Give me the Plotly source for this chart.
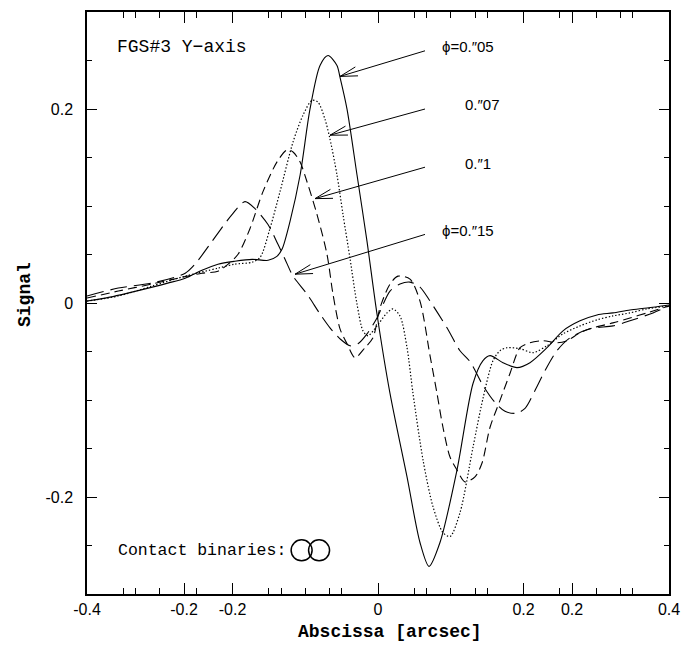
import plotly.graph_objects as go
import math

# ---------------- data ----------------
x_p05 = [-0.400, -0.375, -0.334, -0.289, -0.265, -0.242, -0.220, -0.197, -0.173, -0.151, -0.139, -0.132,
         -0.121, -0.107, -0.0935, -0.0797, -0.0687, -0.0564, -0.0522, -0.0426, -0.0289, -0.0151, -0.0014,
         0.0165, 0.0399, 0.0577, 0.0701, 0.0852, 0.1086, 0.1306, 0.1443, 0.154, 0.1718, 0.1911, 0.2089,
         0.2323, 0.2543, 0.2777, 0.301, 0.323, 0.3464, 0.3698, 0.400]
y_p05 = [0.002, 0.005, 0.012, 0.0205, 0.0256, 0.0338, 0.040, 0.043, 0.045, 0.044, 0.048, 0.0553,
         0.084, 0.1322, 0.1998, 0.2449, 0.2551, 0.2449, 0.2326, 0.1998, 0.1322, 0.0635, -0.0113,
         -0.0932, -0.1793, -0.2469, -0.2715, -0.2469, -0.1721, -0.083, -0.0594, -0.0543, -0.0615, -0.0666, -0.0615,
         -0.0461, -0.0287, -0.0184, -0.0123, -0.0102, -0.0072, -0.0051, -0.002]

x_p07 = [-0.400, -0.357, -0.311, -0.265, -0.220, -0.197, -0.173, -0.162, -0.1485, -0.1347, -0.1168, -0.1031,
         -0.0907, -0.0825, -0.0729, -0.066, -0.0564, -0.0481, -0.0385, -0.0289, -0.0206, -0.0137, -0.0014,
         0.0124, 0.0206, 0.0302, 0.0399, 0.0481, 0.0619, 0.0756, 0.0893, 0.099, 0.1127, 0.1306, 0.1443,
         0.1581, 0.1677, 0.1773, 0.1952, 0.2131, 0.2323, 0.2543, 0.2777, 0.301, 0.323, 0.3464, 0.3698, 0.400]
y_p07 = [0.002, 0.0072, 0.0174, 0.0277, 0.0359, 0.040, 0.042, 0.0471, 0.0768, 0.1148, 0.166, 0.1936,
         0.209, 0.207, 0.1895, 0.169, 0.1322, 0.0912, 0.0461, -0.001, -0.0287, -0.0338, -0.0236,
         -0.0102, -0.0061, -0.0133, -0.0461, -0.0932, -0.1619, -0.210, -0.2367, -0.2408, -0.2162, -0.1486, -0.0984,
         -0.0594, -0.0492, -0.0461, -0.0471, -0.0512, -0.0441, -0.0318, -0.0236, -0.0174, -0.0133, -0.0102, -0.0061, -0.003]

x_p10 = [-0.400, -0.357, -0.311, -0.275, -0.242, -0.220, -0.206, -0.1924, -0.1759, -0.1581, -0.1388, -0.1251,
         -0.1168, -0.1072, -0.0976, -0.0838, -0.0701, -0.0619, -0.0522, -0.0426, -0.0316, -0.0179, -0.0069,
         0.0027, 0.0165, 0.0275, 0.044, 0.0577, 0.0715, 0.0811, 0.0893, 0.099, 0.1086, 0.1196, 0.1333,
         0.143, 0.154, 0.1677, 0.1814, 0.1952, 0.2089, 0.2268, 0.246, 0.2598, 0.2777, 0.2955, 0.323, 0.3464,
         0.3698, 0.400]
y_p10 = [0.0051, 0.0123, 0.0195, 0.0256, 0.0307, 0.0328, 0.040, 0.0502, 0.0768, 0.1148, 0.1455, 0.1578,
         0.1557, 0.1455, 0.125, 0.0912, 0.0502, 0.0092, -0.0266, -0.042, -0.0564, -0.0461, -0.0359,
         -0.0051, 0.0195, 0.0277, 0.0246, 0.002, -0.0543, -0.0932, -0.1281, -0.1588, -0.1721, -0.1844, -0.1793,
         -0.165, -0.1281, -0.1004, -0.0727, -0.0461, -0.041, -0.0389, -0.041, -0.0389, -0.0307, -0.0256, -0.0205, -0.0154,
         -0.0102, -0.003]

x_p15 = [-0.400, -0.357, -0.311, -0.265, -0.2515, -0.2282, -0.2007, -0.1828, -0.1691, -0.1512, -0.1375, -0.1278,
         -0.1168, -0.0976, -0.0797, -0.066, -0.0522, -0.0385, -0.0275, -0.0151, -0.0014, 0.0165, 0.0302,
         0.044, 0.0577, 0.0715, 0.0948, 0.1127, 0.1265, 0.1443, 0.1608, 0.1746, 0.1897, 0.2021, 0.2158,
         0.2296, 0.246, 0.2639, 0.2914, 0.323, 0.3464, 0.378, 0.400]
y_p15 = [0.0072, 0.0154, 0.0205, 0.0307, 0.040, 0.0635, 0.0912, 0.1045, 0.0973, 0.0809, 0.0605, 0.0451,
         0.0277, 0.0092, -0.0113, -0.0256, -0.0369, -0.0441, -0.042, -0.0318, -0.0154, 0.0123, 0.0195,
         0.0215, 0.0164, 0.002, -0.0256, -0.0492, -0.0605, -0.085, -0.1025, -0.1117, -0.1137, -0.1086, -0.0902,
         -0.0697, -0.0492, -0.0359, -0.0266, -0.0236, -0.0184, -0.0102, -0.003]

# arrows: tail -> tip (data units)
arrow_tail_x = [0.0646, 0.0646, 0.0646, 0.0646]
arrow_tail_y = [0.260, 0.200, 0.140, 0.0707]
arrow_tip_x = [-0.0522, -0.066, -0.0866, -0.114]
arrow_tip_y = [0.2336, 0.173, 0.1076, 0.0297]

phase_labels = ["\u03d5=0.\u203305", "0.\u203307", "0.\u20331", "\u03d5=0.\u203315"]
label_x = [0.0852, 0.1168, 0.1168, 0.0852]
label_y = [0.2643, 0.2049, 0.1434, 0.0748]

x_major = [-0.4, -0.26667, -0.2, 0, 0.2, 0.26667, 0.4]
x_major_text = ["-0.4", "-0.2", "-0.2", "0", "0.2", "0.2", "0.4"]
x_minor = [-0.35, -0.33333, -0.3, -0.25, -0.15, -0.13333, -0.1, -0.06667, -0.05,
           0.05, 0.06667, 0.1, 0.13333, 0.15, 0.25, 0.3, 0.33333, 0.35]
y_major = [-0.2, 0, 0.2]
y_major_text = ["-0.2", "0", "0.2"]
y_minor = [-0.25, -0.15, -0.1, -0.05, 0.05, 0.1, 0.15, 0.25]

binary_x = [-0.105, -0.081]
binary_y = [-0.255, -0.255]

# ---------------- figure ----------------
# page body has an 8px margin, so the figure is offset by 8px
W, H = 687, 638
ML, MR, MT, MB = 79, 26, 2, 52
XR = [-0.4, 0.4]
YR = [-0.3, 0.3]
kx = (W - ML - MR) / (XR[1] - XR[0])   # px per unit
ky = (H - MT - MB) / (YR[1] - YR[0])

fig = go.Figure()

curve_styles = [
    (x_p05, y_p05, "solid", 1.1),
    (x_p07, y_p07, "1.4px,2px", 1.2),
    (x_p10, y_p10, "9px,5px", 1.1),
    (x_p15, y_p15, "17px,7px", 1.1),
]
for xs, ys, dash, w in curve_styles:
    fig.add_trace(go.Scatter(x=xs, y=ys, mode="lines",
                             line=dict(color="black", width=w, dash=dash, shape="spline", smoothing=0.8),
                             hoverinfo="skip", showlegend=False))

# arrows with open V heads
ax, ay = [], []
for tx0, ty0, hx, hy in zip(arrow_tail_x, arrow_tail_y, arrow_tip_x, arrow_tip_y):
    dxp = (tx0 - hx) * kx
    dyp = (ty0 - hy) * ky
    ang = math.atan2(dyp, dxp)
    L = 18
    ax += [tx0, hx, None]
    ay += [ty0, hy, None]
    for s in (+1, -1):
        a = ang + s * math.radians(15)
        bx = hx + L * math.cos(a) / kx
        by = hy + L * math.sin(a) / ky
        ax += [bx, hx, None]
        ay += [by, hy, None]
fig.add_trace(go.Scatter(x=ax, y=ay, mode="lines", line=dict(color="black", width=1),
                         hoverinfo="skip", showlegend=False))

fig.add_trace(go.Scatter(x=binary_x, y=binary_y, mode="markers",
                         marker=dict(symbol="circle-open", size=21, color="black", line=dict(width=1.5)),
                         hoverinfo="skip", showlegend=False))

for t, lx, ly in zip(phase_labels, label_x, label_y):
    fig.add_annotation(x=lx, y=ly, text=t, showarrow=False, xanchor="left", yanchor="middle",
                       font=dict(family="Liberation Sans, Arial", size=15, color="black"))

fig.add_annotation(x=-0.3615, y=0.2643, text="FGS#3 Y\u2212axis", showarrow=False,
                   xanchor="left", yanchor="middle",
                   font=dict(family="Liberation Mono, Courier New", size=18, color="black"))
fig.add_annotation(x=-0.360, y=-0.255, text="Contact binaries:", showarrow=False,
                   xanchor="left", yanchor="middle",
                   font=dict(family="Liberation Mono, Courier New", size=16.5, color="black"))

fig.add_annotation(xref="paper", yref="paper", x=0.5, y=0, xshift=12, yshift=-38,
                   text="Abscissa [arcsec]", showarrow=False, xanchor="center", yanchor="middle",
                   font=dict(family="Liberation Mono, Courier New", size=18, color="black", weight="bold"))
fig.add_annotation(xref="paper", yref="paper", x=0, y=0.5, xshift=-62, yshift=8,
                   text="Signal", showarrow=False, xanchor="center", yanchor="middle", textangle=-90,
                   font=dict(family="Liberation Mono, Courier New", size=18, color="black", weight="bold"))

axis_common = dict(showline=True, linecolor="black", linewidth=1.5, mirror="ticks",
                   ticks="inside", tickcolor="black", tickwidth=1, showgrid=False, zeroline=False,
                   tickfont=dict(family="Liberation Sans, Arial", size=16, color="black"))

fig.update_xaxes(range=XR, tickmode="array", tickvals=x_major, ticktext=x_major_text, ticklen=11,
                 minor=dict(tickmode="array", tickvals=x_minor, ticklen=6, ticks="inside",
                            tickcolor="black", tickwidth=1, showgrid=False),
                 **axis_common)
fig.update_yaxes(range=YR, tickmode="array", tickvals=y_major, ticktext=y_major_text, ticklen=10,
                 ticklabelstandoff=9,
                 minor=dict(tickmode="array", tickvals=y_minor, ticklen=5, ticks="inside",
                            tickcolor="black", tickwidth=1, showgrid=False),
                 **axis_common)

fig.update_layout(width=W, height=H, margin=dict(l=ML, r=MR, t=MT, b=MB),
                  plot_bgcolor="white", paper_bgcolor="white", showlegend=False)

fig.write_html("out.html")
